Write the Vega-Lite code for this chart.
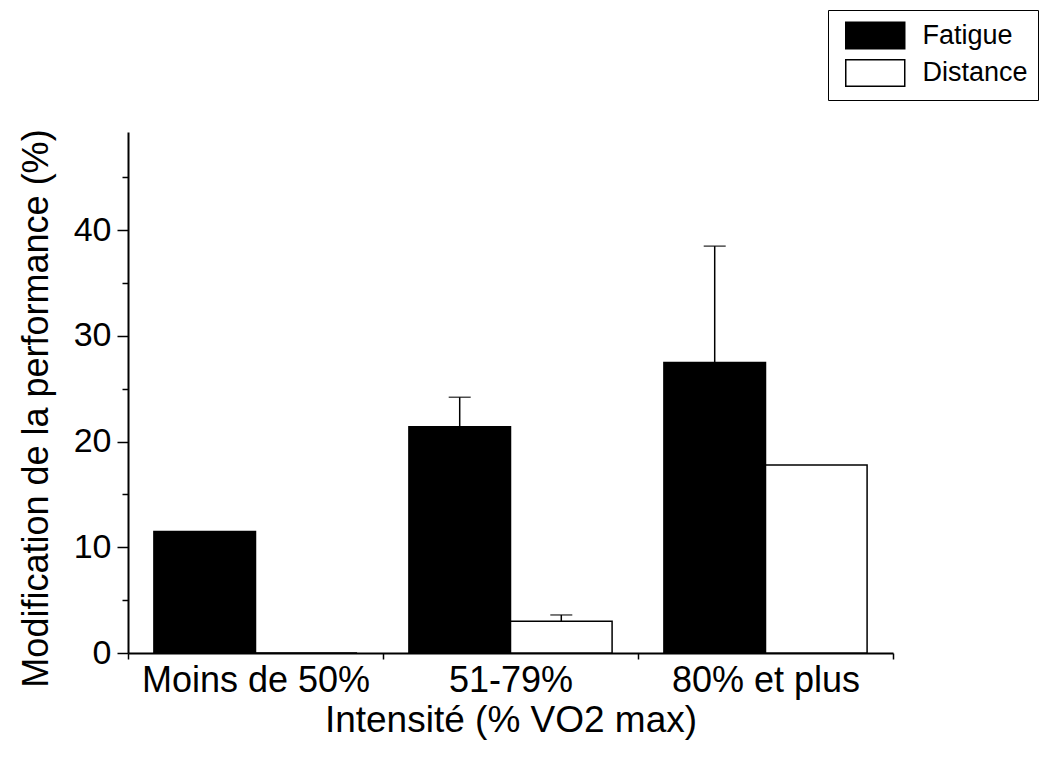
{
  "$schema": "https://vega.github.io/schema/vega-lite/v6.json",
  "width": 765,
  "height": 521,
  "autosize": {"type": "none"},
  "padding": {"left": 128, "top": 132, "right": 149, "bottom": 109},
  "background": "white",
  "config": {
    "view": {"stroke": null},
    "font": "Liberation Sans"
  },
  "data": {
    "values": [
      {"intensite": "Moins de 50%", "serie": "Fatigue", "valeur": 11.5, "erreur": null},
      {"intensite": "Moins de 50%", "serie": "Distance", "valeur": 0, "erreur": null},
      {"intensite": "51-79%", "serie": "Fatigue", "valeur": 21.4, "erreur": 24.2},
      {"intensite": "51-79%", "serie": "Distance", "valeur": 3.0, "erreur": 3.6},
      {"intensite": "80% et plus", "serie": "Fatigue", "valeur": 27.5, "erreur": 38.5},
      {"intensite": "80% et plus", "serie": "Distance", "valeur": 17.8, "erreur": null}
    ]
  },
  "encoding": {
    "x": {
      "field": "intensite",
      "type": "nominal",
      "sort": ["Moins de 50%", "51-79%", "80% et plus"],
      "scale": {"paddingInner": 0, "paddingOuter": 0},
      "axis": {
        "title": "Intensité (% VO2 max)",
        "labelAngle": 0,
        "labelLimit": 400,
        "tickBand": "extent",
        "tickSize": 6,
        "tickWidth": 1.5,
        "tickColor": "black",
        "domainColor": "black",
        "domainWidth": 2,
        "grid": false,
        "labelFont": "Liberation Sans",
        "labelFontSize": 36,
        "labelColor": "black",
        "labelPadding": 4,
        "titleFont": "Liberation Sans",
        "titleFontSize": 37,
        "titleFontWeight": "normal",
        "titleColor": "black",
        "titlePadding": 4
      }
    },
    "xOffset": {
      "field": "serie",
      "type": "nominal",
      "sort": ["Fatigue", "Distance"],
      "scale": {"paddingInner": 0, "paddingOuter": 0.255}
    }
  },
  "layer": [
    {
      "mark": {"type": "bar", "stroke": "black", "strokeWidth": 1.5},
      "encoding": {
        "y": {
          "field": "valeur",
          "type": "quantitative",
          "title": "Modification de la performance (%)",
          "scale": {"domain": [0, 49.3], "nice": false, "zero": true},
          "axis": {
            "values": [0, 5, 10, 15, 20, 25, 30, 35, 40, 45],
            "labelExpr": "datum.value % 10 === 0 ? datum.label : ''",
            "tickSize": {"condition": {"test": "datum.value % 10 === 0", "value": 11}, "value": 6},
            "tickWidth": 1.5,
            "tickColor": "black",
            "domainColor": "black",
            "domainWidth": 2,
            "grid": false,
            "labelFont": "Liberation Sans",
            "labelFontSize": 34,
            "labelColor": "black",
            "labelPadding": 6,
            "titleFont": "Liberation Sans",
            "titleFontSize": 36,
            "titleFontWeight": "normal",
            "titleColor": "black",
            "titlePadding": 18,
            "titleY": 276
          }
        },
        "fill": {
          "field": "serie",
          "type": "nominal",
          "sort": ["Fatigue", "Distance"],
          "scale": {"domain": ["Fatigue", "Distance"], "range": ["black", "white"]},
          "legend": {
            "title": null,
            "orient": "none",
            "legendX": 700,
            "legendY": -122,
            "direction": "vertical",
            "symbolType": "M-2,-0.9H2V0.9H-2Z",
            "symbolSize": 870,
            "symbolStrokeColor": "black",
            "symbolStrokeWidth": 1.5,
            "symbolOffset": 21.75,
            "labelFont": "Liberation Sans",
            "labelFontSize": 27,
            "labelColor": "black",
            "labelOffset": 31.75,
            "labelLimit": 0,
            "strokeColor": "black",
            "fillColor": "white",
            "padding": 10,
            "rowPadding": 4.5
          }
        }
      }
    },
    {
      "transform": [{"filter": "datum.erreur != null"}],
      "mark": {"type": "rule", "strokeWidth": 1.5, "color": "black"},
      "encoding": {
        "y": {"field": "valeur", "type": "quantitative", "title": "Modification de la performance (%)"},
        "y2": {"field": "erreur"}
      }
    },
    {
      "transform": [{"filter": "datum.erreur != null"}],
      "mark": {"type": "tick", "size": 22, "thickness": 1.5, "color": "black"},
      "encoding": {
        "y": {"field": "erreur", "type": "quantitative", "title": "Modification de la performance (%)"}
      }
    }
  ]
}
